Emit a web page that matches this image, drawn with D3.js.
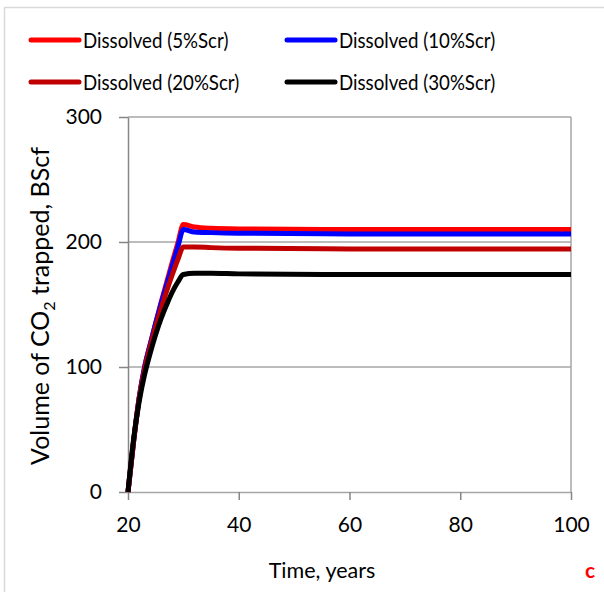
<!DOCTYPE html>
<html>
<head>
<meta charset="utf-8">
<script src="https://cdn.jsdelivr.net/npm/d3@7"></script>
<style>
  body { margin: 0; background: #fff; }
  text { font-family: Lato, "Open Sans", sans-serif; fill: #000; }
</style>
</head>
<body>
<div id="chart-container"></div>
<script>
// data
const years = [20, 21, 22, 23, 24, 25, 26, 27, 28, 29, 30, 32, 35, 40, 60, 80, 100];
const dissolved5 = [0, 40, 75, 100, 118, 135, 152, 168, 184, 199, 214, 212, 211, 210.5, 210, 210, 210];
const dissolved10 = [0, 40, 75, 100, 118, 135, 151, 166, 181, 196, 210, 208, 207.5, 207, 206.5, 206.5, 206.5];
const dissolved20 = [0, 40, 74, 98, 116, 132, 147, 161, 174, 186, 196, 196, 195.5, 195, 194.5, 194.5, 194.5];
const dissolved30 = [0, 42, 72, 94, 111, 126, 139, 150, 160, 168, 174, 175, 175, 174.5, 174, 174, 174];
const seriesNames = ["Dissolved (5%Scr)", "Dissolved (10%Scr)", "Dissolved (20%Scr)", "Dissolved (30%Scr)"];
const seriesColors = ["#ff0000", "#0000ff", "#c00000", "#000000"];
const xTicks = [20, 40, 60, 80, 100];
const yTicks = [0, 100, 200, 300];

const svgWidth = 604,
    svgHeight = 592,
    margin = { top: 117, right: 33, bottom: 100, left: 128 },
    width = svgWidth - margin.left - margin.right,
    height = svgHeight - margin.top - margin.bottom;

const root = d3.select("#chart-container").append("svg")
    .attr("width", svgWidth)
    .attr("height", svgHeight);

// outer chart frame
root.append("rect")
    .attr("x", 4.5).attr("y", 7.5)
    .attr("width", svgWidth + 10).attr("height", svgHeight + 10)
    .attr("fill", "none")
    .attr("stroke", "#d9d9d9")
    .attr("stroke-width", 1.5);

const svg = root.append("g")
    .attr("transform", "translate(" + margin.left + "," + margin.top + ")");

const xScale = d3.scaleLinear().domain([20, 100]).range([0, width]);
const yScale = d3.scaleLinear().domain([0, 300]).range([height, 0]);

// gridlines
svg.append("g")
    .selectAll("line")
    .data(yTicks.filter(d => d > 0))
    .join("line")
    .attr("x1", 0).attr("x2", width)
    .attr("y1", d => yScale(d)).attr("y2", d => yScale(d))
    .attr("stroke", "#a6a6a6")
    .attr("stroke-width", 1.5);

// right border
svg.append("line")
    .attr("x1", width).attr("x2", width)
    .attr("y1", 0).attr("y2", height)
    .attr("stroke", "#a6a6a6")
    .attr("stroke-width", 1.5);

// axes
const xAxis = svg.append("g")
    .attr("transform", "translate(0," + height + ")")
    .call(d3.axisBottom(xScale).tickValues(xTicks).tickSize(8).tickSizeOuter(0).tickPadding(17));
const yAxis = svg.append("g")
    .call(d3.axisLeft(yScale).tickValues(yTicks).tickSize(9).tickSizeOuter(0).tickPadding(17));

[xAxis, yAxis].forEach(ax => {
    ax.selectAll("path, line").attr("stroke", "#868686").attr("stroke-width", 1.5);
    ax.selectAll("text").style("font-size", "21px").style("font-family", "Lato, sans-serif");
});
xAxis.select(".domain").attr("stroke", "#a6a6a6");

// lines
const allSeries = [dissolved5, dissolved10, dissolved20, dissolved30];
const line = d3.line()
    .x((d, i) => xScale(years[i]))
    .y(d => yScale(d))
    .curve(d3.curveMonotoneX);

svg.selectAll(".series")
    .data(allSeries)
    .join("path")
    .attr("class", "series")
    .attr("d", d => line(d))
    .attr("fill", "none")
    .attr("stroke", (d, i) => seriesColors[i])
    .attr("stroke-width", 5)
    .attr("stroke-linejoin", "round");

// legend
const legend = root.append("g");
const legendItems = legend.selectAll("g")
    .data(seriesNames)
    .join("g")
    .attr("transform", (d, i) => "translate(" + (i % 2 === 0 ? 31 : 287) + "," + (i < 2 ? 40 : 82) + ")");
legendItems.append("line")
    .attr("x1", 0).attr("x2", 48)
    .attr("stroke", (d, i) => seriesColors[i])
    .attr("stroke-width", 5)
    .attr("stroke-linecap", "round");
legendItems.append("text")
    .attr("transform", "translate(52,0) scale(0.85,1)")
    .attr("dy", "0.35em")
    .style("font-size", "22px")
    .text(d => d);

// axis titles
root.append("text")
    .attr("x", 322).attr("y", 578)
    .attr("text-anchor", "middle")
    .style("font-size", "21.5px")
    .text("Time, years");

const yTitle = root.append("text")
    .attr("transform", "translate(48.5,306) rotate(-90)")
    .attr("text-anchor", "middle")
    .style("font-size", "25px");
yTitle.append("tspan").text("Volume of CO");
yTitle.append("tspan").attr("dy", 6).style("font-size", "16px").text("2");
yTitle.append("tspan").attr("dy", -6).text(" trapped, BScf");

root.append("text")
    .attr("x", 585).attr("y", 578)
    .style("font-size", "21px")
    .style("font-weight", "bold")
    .style("fill", "#ff0000")
    .text("c");
</script>
</body>
</html>
